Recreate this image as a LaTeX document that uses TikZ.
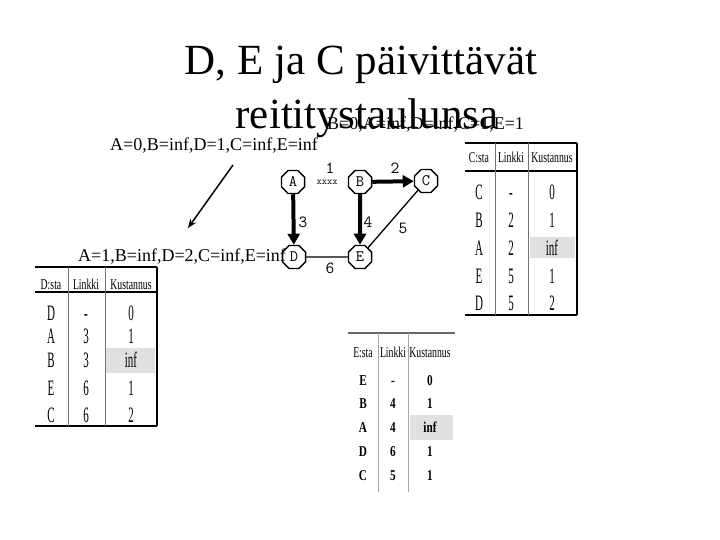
\documentclass[tikz,border=0pt]{standalone}
\usepackage{fontspec}
\usepackage{graphicx}
\setmainfont{Liberation Serif}
\usetikzlibrary{shapes.geometric,arrows.meta}
\newcommand{\hd}[1]{\scalebox{0.65}[1]{\fontsize{15}{15}\selectfont #1}}
\newcommand{\rw}[1]{\scalebox{0.5}[1]{\fontsize{22}{22}\selectfont #1}}
\newcommand{\rwe}[1]{\scalebox{0.75}[1]{\fontsize{15}{15}\selectfont\bfseries #1}}
\tikzset{
  oct/.style={regular polygon, regular polygon sides=8, draw, line width=1.4pt,
     minimum size=25pt, inner sep=0pt, font=\ttfamily\fontsize{16}{16}\selectfont},
  elab/.style={font=\ttfamily\fontsize{17}{17}\selectfont, inner sep=0pt},
  fat/.style={line width=4pt, -{Triangle[length=11pt,width=12pt]}},
  thin/.style={line width=1.3pt},
  cell/.style={inner sep=0pt, anchor=base},
  rtxt/.style={font=\fontsize{18}{18}\selectfont, anchor=base west, inner sep=0pt},
  thick2/.style={line width=2pt},
  vsep/.style={line width=0.7pt, black!55}
}
\begin{document}
\begin{tikzpicture}[x=1pt,y=-1pt]
\useasboundingbox (0,0) rectangle (720,540);
\fill[white] (0,0) rectangle (720,540);
% title
\node[font=\fontsize{43}{43}\selectfont, anchor=base, inner sep=0pt] (t1) at (361,75) {D, E ja C päivittävät};
\node[font=\fontsize{43}{43}\selectfont, anchor=base, inner sep=0pt] (t2) at (367,129) {reititystaulunsa};
\node[rtxt] (bt) at (327,130) {B=0,A=inf,D=inf,C=1,E=1};
\node[rtxt] (at) at (110,151) {A=0,B=inf,D=1,C=inf,E=inf};
\node[rtxt] (dt) at (78,261) {A=1,B=inf,D=2,C=inf,E=inf};
\coordinate (p1) at (233,165);
\coordinate (p2) at (188,228);
\draw[line width=1.5pt, -{Stealth[length=9pt,width=7pt]}] (p1) -- (p2);
% graph
\node[oct] (A) at (293,182) {A};
\node[oct] (B) at (360,182) {B};
\node[oct] (C) at (426,181) {C};
\node[oct] (D) at (294,257) {D};
\node[oct] (E) at (360,257) {E};
\draw[fat] (A) -- (D);
\draw[fat] (B) -- (E);
\draw[fat] (B) -- (C);
\draw[thin] (C) -- (E);
\draw[thin] (D) -- (E);
\node[elab] (l1) at (330,168) {1};
\node[font=\ttfamily\fontsize{10}{10}\selectfont, inner sep=0pt] (lx) at (327,182) {xxxx};
\node[elab] (l2) at (395,168) {2};
\node[elab] (l3) at (303,222) {3};
\node[elab] (l4) at (368,222) {4};
\node[elab] (l5) at (403,228) {5};
\node[elab] (l6) at (330,268) {6};
% Table C
\fill[black!12] (530,237) rectangle (575,258);
\draw[thick2] (465,143) -- (577,143);
\draw[line width=1.2pt] (465,171) -- (577,171);
\draw[thick2] (465,315) -- (577,315);
\draw[vsep] (495,143) -- (495,315);
\draw[vsep] (528,143) -- (528,315);
\draw[line width=1.5pt] (577,143) -- (577,315);
\node[cell] (ch1) at (479,163) {\hd{C:sta}};
\node[cell] (ch2) at (511,163) {\hd{Linkki}};
\node[cell] (ch3) at (552,163) {\hd{Kustannus}};
\node[cell] at (479,200) {\rw{C}}; \node[cell] at (511,200) {\rw{-}}; \node[cell] at (552,200) {\rw{0}};
\node[cell] at (479,227) {\rw{B}}; \node[cell] at (511,227) {\rw{2}}; \node[cell] at (552,227) {\rw{1}};
\node[cell] at (479,255) {\rw{A}}; \node[cell] at (511,255) {\rw{2}}; \node[cell] at (552,255) {\rw{inf}};
\node[cell] at (479,283) {\rw{E}}; \node[cell] at (511,283) {\rw{5}}; \node[cell] at (552,283) {\rw{1}};
\node[cell] at (479,310) {\rw{D}}; \node[cell] at (511,310) {\rw{5}}; \node[cell] at (552,310) {\rw{2}};
% Table D
\fill[black!12] (105,348) rectangle (155,373);
\draw[thick2] (35,267) -- (157,267);
\draw[line width=1.2pt] (35,292) -- (157,292);
\draw[thick2] (35,426) -- (157,426);
\draw[vsep] (68,267) -- (68,426);
\draw[vsep] (105,267) -- (105,426);
\draw[line width=1.5pt] (157,267) -- (157,426);
\node[cell] at (51,289) {\hd{D:sta}};
\node[cell] at (86,289) {\hd{Linkki}};
\node[cell] at (131,289) {\hd{Kustannus}};
\node[cell] at (51,320) {\rw{D}}; \node[cell] at (86,320) {\rw{-}}; \node[cell] at (131,320) {\rw{0}};
\node[cell] at (51,343) {\rw{A}}; \node[cell] at (86,343) {\rw{3}}; \node[cell] at (131,343) {\rw{1}};
\node[cell] at (51,367) {\rw{B}}; \node[cell] at (86,367) {\rw{3}}; \node[cell] at (131,367) {\rw{inf}};
\node[cell] at (51,395) {\rw{E}}; \node[cell] at (86,395) {\rw{6}}; \node[cell] at (131,395) {\rw{1}};
\node[cell] at (51,422) {\rw{C}}; \node[cell] at (86,422) {\rw{6}}; \node[cell] at (131,422) {\rw{2}};
% Table E
\fill[black!12] (410,415) rectangle (453,440);
\draw[line width=1.5pt, black!60] (348,333) -- (455,333);
\draw[vsep, black!35] (378,333) -- (378,492);
\draw[vsep, black!35] (408,333) -- (408,492);
\node[cell] at (363,357) {\hd{E:sta}};
\node[cell] at (393,357) {\hd{Linkki}};
\node[cell] at (430,357) {\hd{Kustannus}};
\node[cell] at (363,385) {\rwe{E}}; \node[cell] at (393,385) {\rwe{-}}; \node[cell] at (430,385) {\rwe{0}};
\node[cell] at (363,408) {\rwe{B}}; \node[cell] at (393,408) {\rwe{4}}; \node[cell] at (430,408) {\rwe{1}};
\node[cell] at (363,432) {\rwe{A}}; \node[cell] at (393,432) {\rwe{4}}; \node[cell] at (430,432) {\rwe{inf}};
\node[cell] at (363,456) {\rwe{D}}; \node[cell] at (393,456) {\rwe{6}}; \node[cell] at (430,456) {\rwe{1}};
\node[cell] at (363,480) {\rwe{C}}; \node[cell] at (393,480) {\rwe{5}}; \node[cell] at (430,480) {\rwe{1}};
\end{tikzpicture}
\end{document}
